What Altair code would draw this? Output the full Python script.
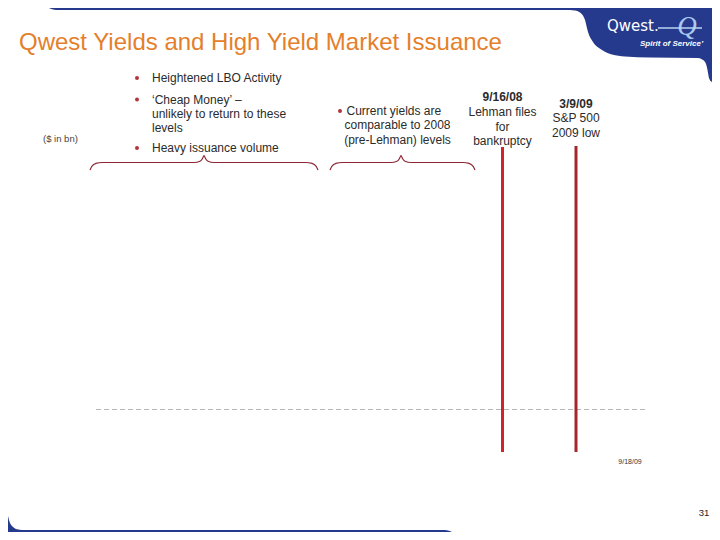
import altair as alt
import pandas as pd

# ---------------- content (text and values) ----------------
TITLE = "Qwest Yields and High Yield Market Issuance"
UNIT_LABEL = "($ in bn)"
LBO_LINES = ["Heightened LBO Activity", "\u2018Cheap Money\u2019 \u2013",
             "unlikely to return to these", "levels", "Heavy issuance volume"]
CURRENT_LINES = ["Current yields are", "comparable to 2008", "(pre-Lehman) levels"]
EVENT_DATES = ["9/16/08", "3/9/09"]
EVENT_NOTES = [["Lehman files", "for", "bankruptcy"], ["S&P 500", "2009 low"]]
EVENT_COLORS = ["#d2222a", "#a2282e"]
END_DATE_LABEL = "9/18/09"
PAGE_NUMBER = "31"
LOGO_WORD = "Qwest."
LOGO_TAG = "Spirit of Service\u2019"

# ---------------- layout (slide coordinates, px) ----------------
LBO_X = 152
LBO_Y = [78, 99.5, 114, 127.5, 148]
LBO_BULLET_X = 137
LBO_BULLET_Y = [78, 99.5, 148]
UNIT_XY = (43, 139)
CUR_X = [346.5, 397.5, 397.5]
CUR_Y = [111, 125, 139.5]
CUR_BULLET = (340, 111)
EVENT_X = [502.5, 576]
EVENT_DATE_Y = [96.5, 104]
EVENT_NOTE_Y = [[111.5, 126.5, 141], [118, 133]]
EVENT_TOP = [147, 146]
EVENT_BOTTOM = [452, 452]
BASE_Y = 409.5
BASE_X = [96, 645]
END_LABEL_XY = (630, 462)
PAGE_XY = (704, 513)
BRACES = [(90, 204, 318), (330, 401, 475)]

# ---------------- tables ----------------
W, H = 704, 524
xs = alt.Scale(domain=[8, 8 + W], nice=False, zero=False)
ys = alt.Scale(domain=[8, 8 + H], nice=False, zero=False, reverse=True)
X = lambda f="x": alt.X(f"{f}:Q", scale=xs, axis=None)
Y = lambda f="y": alt.Y(f"{f}:Q", scale=ys, axis=None)

# top blue banner with logo swell (bottom edge)
top_band = pd.DataFrame({
    "x":  [46, 50, 56, 565, 575, 580, 585, 588, 593, 602, 612, 625, 650, 698, 703, 706, 707.5, 709, 712, 725],
    "y2": [6, 8.5, 10, 10, 10.5, 12.5, 20, 32, 42, 50, 54.5, 56.5, 57.5, 58, 60, 64, 70, 78, 82, 84],
})
top_band["y"] = -10
bottom_band = pd.DataFrame({
    "x": [0, 8, 10, 13, 17, 22, 445, 451, 454, 456],
    "y": [452, 516, 523, 527, 529.3, 530, 530, 531.5, 535, 545],
})
bottom_band["y2"] = 560

# braces
brace_rows = []
for i, (a, m, b) in enumerate(BRACES):
    pts = [(a, 170), (a + 2, 166.2), (a + 6, 163.4), (a + 12, 162.5), (m - 10, 162.5),
           (m - 4, 161.2), (m - 1.5, 158.5), (m, 155.5), (m + 1.5, 158.5), (m + 4, 161.2),
           (m + 10, 162.5), (b - 12, 162.5), (b - 6, 163.4), (b - 2, 166.2), (b, 170)]
    for px, py in pts:
        brace_rows.append({"x": px, "y": py, "g": i})
braces = pd.DataFrame(brace_rows)

events = pd.DataFrame({"date": EVENT_DATES, "x": EVENT_X, "y": EVENT_TOP,
                       "y2": EVENT_BOTTOM, "c": EVENT_COLORS})
event_dates = pd.DataFrame({"text": EVENT_DATES, "x": EVENT_X, "y": EVENT_DATE_Y})
note_rows = []
for ex, notes, ny in zip(EVENT_X, EVENT_NOTES, EVENT_NOTE_Y):
    for t, yy in zip(notes, ny):
        note_rows.append({"text": t, "x": ex, "y": yy})
center_text = pd.DataFrame(note_rows + [
    {"text": CURRENT_LINES[1], "x": CUR_X[1], "y": CUR_Y[1]},
    {"text": CURRENT_LINES[2], "x": CUR_X[2], "y": CUR_Y[2]},
])
left_text = pd.DataFrame(
    [{"text": t, "x": LBO_X, "y": yy} for t, yy in zip(LBO_LINES, LBO_Y)]
    + [{"text": CURRENT_LINES[0], "x": CUR_X[0], "y": CUR_Y[0]}]
)
bullets = pd.DataFrame({"x": [LBO_BULLET_X] * 3 + [CUR_BULLET[0]],
                        "y": LBO_BULLET_Y + [CUR_BULLET[1]]})
base_line = pd.DataFrame({"x": [BASE_X[0]], "x2": [BASE_X[1]], "y": [BASE_Y]})

FONT = "Liberation Sans"
INK = "#2b2b2b"

layers = [
    alt.Chart(top_band).mark_area(color="#25398d", interpolate="monotone").encode(
        x=X(), y=Y(), y2="y2:Q"),
    alt.Chart(bottom_band).mark_area(color="#25398d", interpolate="monotone").encode(
        x=X(), y=Y(), y2="y2:Q"),
    # logo
    alt.Chart(pd.DataFrame({"x": [687], "y": [35], "t": ["Q"]})).mark_text(
        font="Liberation Serif", fontSize=27, fontStyle="italic", color="#a9c9ee",
        baseline="alphabetic", align="center").encode(x=X(), y=Y(), text="t:N"),
    alt.Chart(pd.DataFrame({"x": [658], "x2": [702], "y": [28]})).mark_rule(
        color="#b9d4f2", strokeWidth=1.5).encode(x=X(), x2="x2:Q", y=Y()),
    alt.Chart(pd.DataFrame({"x": [607], "y": [31], "t": [LOGO_WORD]})).mark_text(
        font="DejaVu Sans", fontSize=15, color="white", align="left", baseline="alphabetic").encode(
        x=X(), y=Y(), text="t:N"),
    alt.Chart(pd.DataFrame({"x": [640], "y": [46], "t": [LOGO_TAG]})).mark_text(
        font=FONT, fontSize=8, fontStyle="italic", fontWeight="bold", color="white",
        align="left", baseline="alphabetic").encode(x=X(), y=Y(), text="t:N"),
    # title
    alt.Chart(pd.DataFrame({"x": [19], "y": [50], "t": [TITLE]})).mark_text(
        font=FONT, fontSize=24, color="#e4802c", align="left", baseline="alphabetic").encode(
        x=X(), y=Y(), text="t:N"),
    # braces
    alt.Chart(braces).mark_line(color="#8e2634", strokeWidth=1.2, interpolate="monotone").encode(
        x=X(), y=Y(), detail="g:N"),
    # baseline
    alt.Chart(base_line).mark_rule(color="#b4b4b4", strokeWidth=1, strokeDash=[5, 3]).encode(
        x=X(), x2="x2:Q", y=Y()),
    # event lines
    alt.Chart(events).mark_rule(strokeWidth=3).encode(
        x=X(), y=Y(), y2="y2:Q", color=alt.Color("c:N", scale=None)),
    # bullets
    alt.Chart(bullets).mark_point(filled=True, shape="circle", size=16, color="#b3343c", opacity=1).encode(
        x=X(), y=Y()),
    # texts
    alt.Chart(left_text).mark_text(font=FONT, fontSize=12, color=INK, align="left",
                                   baseline="middle").encode(x=X(), y=Y(), text="text:N"),
    alt.Chart(center_text).mark_text(font=FONT, fontSize=12, color=INK, align="center",
                                     baseline="middle").encode(x=X(), y=Y(), text="text:N"),
    alt.Chart(event_dates).mark_text(font=FONT, fontSize=12, fontWeight="bold", color=INK,
                                     align="center", baseline="middle").encode(
        x=X(), y=Y(), text="text:N"),
    alt.Chart(pd.DataFrame({"x": [UNIT_XY[0]], "y": [UNIT_XY[1]], "t": [UNIT_LABEL]})).mark_text(
        font=FONT, fontSize=9.5, color="#444444", align="left", baseline="middle").encode(
        x=X(), y=Y(), text="t:N"),
    alt.Chart(pd.DataFrame({"x": [END_LABEL_XY[0]], "y": [END_LABEL_XY[1]], "t": [END_DATE_LABEL]})).mark_text(
        font=FONT, fontSize=7, color="#333333", align="center", baseline="middle").encode(
        x=X(), y=Y(), text="t:N"),
    alt.Chart(pd.DataFrame({"x": [PAGE_XY[0]], "y": [PAGE_XY[1]], "t": [PAGE_NUMBER]})).mark_text(
        font=FONT, fontSize=9.5, color="#222222", align="center", baseline="middle").encode(
        x=X(), y=Y(), text="t:N"),
]

chart = alt.layer(*layers).properties(
    width=W, height=H, padding=0, autosize=alt.AutoSizeParams(type="none"),
    background="white",
).configure_view(stroke=None)

chart.save("out.html", embed_options={"renderer": "svg", "actions": False})
